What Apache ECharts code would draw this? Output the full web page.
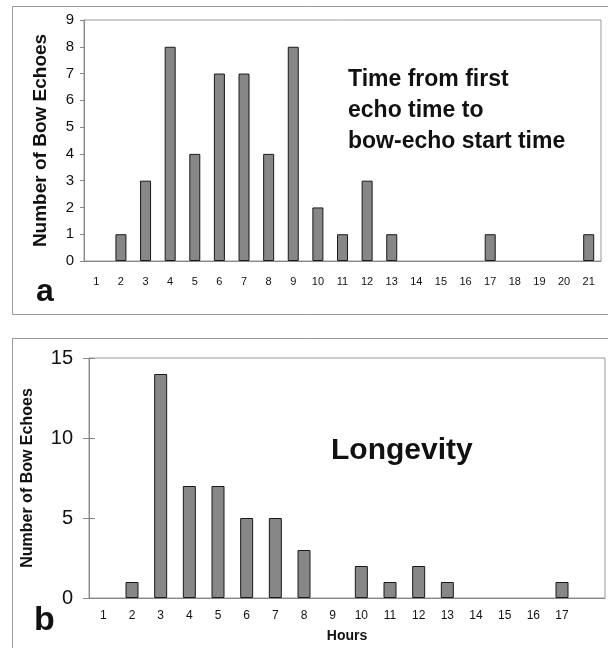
<!DOCTYPE html>
<html><head><meta charset="utf-8">
<script src="https://cdn.jsdelivr.net/npm/echarts@6/dist/echarts.min.js"></script>
<style>html,body{margin:0;padding:0;background:#fff}#c{width:608px;height:648px}</style>
</head><body><div id="c"></div>
<script>
const hoursA = ['1','2','3','4','5','6','7','8','9','10','11','12','13','14','15','16','17','18','19','20','21'];
const countsA = [0,1,3,8,4,7,7,4,8,2,1,3,1,0,0,0,1,0,0,0,1];
const hoursB = ['1','2','3','4','5','6','7','8','9','10','11','12','13','14','15','16','17',''];
const countsB = [0,1,14,7,7,5,5,3,0,2,1,2,1,0,0,0,1,null];
const titleA = ['Time from first','echo time to','bow-echo start time'];
const titleB = 'Longevity';
const yName = 'Number of Bow Echoes';
const xNameB = 'Hours';

const F = 'Liberation Sans, Arial, sans-serif';
const barStyle = {color:'#878787', borderColor:'#1a1a1a', borderWidth:1};
const toItems = arr => arr.map(v => v === 0 ? {value:0, itemStyle:{borderWidth:0, opacity:0}} : v);
const chart = echarts.init(document.getElementById('c'));
chart.setOption({
  animation:false,
  textStyle:{fontFamily:F},
  grid:[
    {left:84, top:20, width:517, height:241, show:true, borderColor:'#999', borderWidth:1},
    {left:89, top:358, width:516, height:240, show:true, borderColor:'#999', borderWidth:1}
  ],
  xAxis:[
    {type:'category', gridIndex:0, data:hoursA, boundaryGap:true,
     axisLine:{lineStyle:{color:'#888'}}, axisTick:{show:false},
     axisLabel:{color:'#111', fontSize:11, margin:15, interval:0}},
    {type:'category', gridIndex:1, data:hoursB, boundaryGap:true,
     name:xNameB, nameLocation:'middle', nameGap:31,
     nameTextStyle:{fontSize:14, fontWeight:'bold', color:'#111', padding:[0,0,0,0]},
     axisLine:{lineStyle:{color:'#888'}}, axisTick:{show:false},
     axisLabel:{color:'#111', fontSize:12, margin:12, interval:0}}
  ],
  yAxis:[
    {type:'value', gridIndex:0, min:0, max:9, interval:1,
     name:yName, nameLocation:'middle', nameGap:34,
     nameTextStyle:{fontSize:19, fontWeight:'bold', color:'#111'},
     axisLine:{show:true, lineStyle:{color:'#888'}}, axisTick:{show:true, length:4, lineStyle:{color:'#888'}},
     splitLine:{show:false},
     axisLabel:{color:'#111', fontSize:15, margin:10}},
    {type:'value', gridIndex:1, position:'left', min:0, max:15, interval:5,
     name:yName, nameLocation:'middle', nameGap:53,
     nameTextStyle:{fontSize:16, fontWeight:'bold', color:'#111'},
     axisLine:{show:true, lineStyle:{color:'#888'}}, axisTick:{show:true, length:6, lineStyle:{color:'#888'}},
     splitLine:{show:false},
     axisLabel:{color:'#111', fontSize:20, margin:16}},
    {type:'value', gridIndex:1, position:'left', offset:0, min:0, max:15, interval:5,
     axisLine:{show:false}, axisTick:{show:true, inside:true, length:6, lineStyle:{color:'#888'}},
     splitLine:{show:false}, axisLabel:{show:false}}
  ],
  series:[
    {type:'bar', xAxisIndex:0, yAxisIndex:0, data:toItems(countsA), barWidth:11, itemStyle:barStyle},
    {type:'bar', xAxisIndex:1, yAxisIndex:1, data:toItems(countsB), barWidth:13, itemStyle:barStyle}
  ],
  graphic:[
    {type:'rect', shape:{x:12.5, y:6.5, width:610, height:308}, style:{fill:'none', stroke:'#999', lineWidth:1}, z:-1},
    {type:'rect', shape:{x:12.5, y:338.5, width:610, height:320}, style:{fill:'none', stroke:'#999', lineWidth:1}, z:-1},
    {type:'text', left:36, top:276, style:{text:'a', font:'bold 32px '+F, fill:'#111'}},
    {type:'text', left:34, top:604, style:{text:'b', font:'bold 34px '+F, fill:'#111'}},
    {type:'text', left:348, top:64, style:{text:titleA.join('\n'), font:'bold 23px '+F, lineHeight:31, fill:'#111'}},
    {type:'text', left:331, top:436, style:{text:titleB, font:'bold 30px '+F, fill:'#111'}}
  ]
});
</script>
</body></html>
